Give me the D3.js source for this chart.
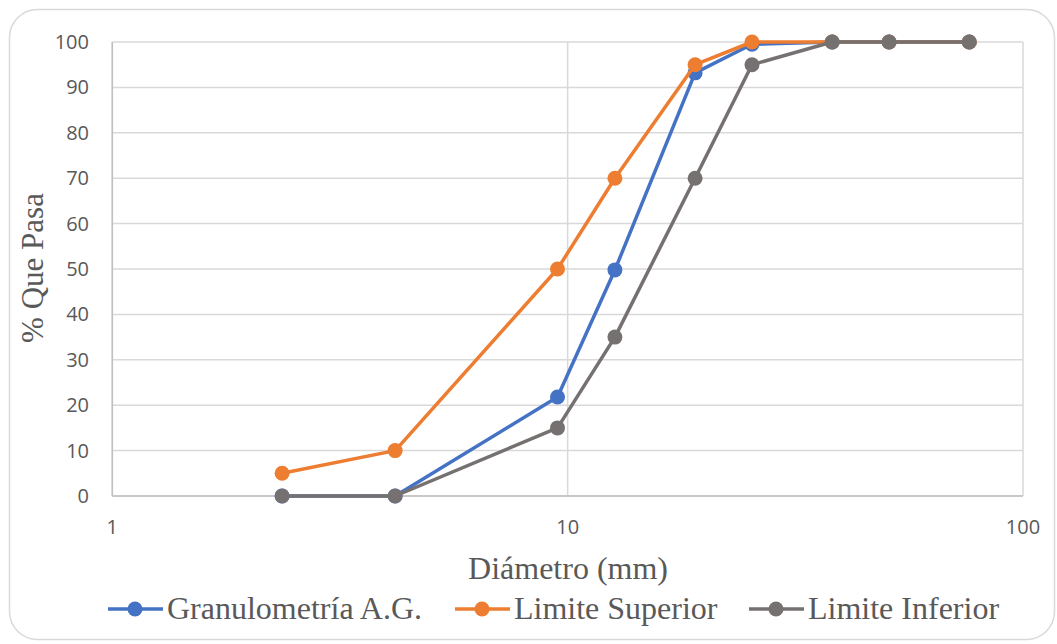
<!DOCTYPE html>
<html><head><meta charset="utf-8">
<script src="https://cdn.jsdelivr.net/npm/d3@7"></script>
<style>body{margin:0;background:#fff}svg{display:block}</style>
</head><body><svg id="c" width="1057" height="644"></svg>
<script>
const diameters = [2.36, 4.18, 9.5, 12.7, 19.05, 25.4, 38.1, 50.8, 76.2];
const granulometria = [0, 0, 21.8, 49.8, 93.2, 99.5, 100, 100, 100];
const limiteSuperior = [5, 10, 50, 70, 95, 100, 100, 100, 100];
const limiteInferior = [0, 0, 15, 35, 70, 95, 100, 100, 100];
const seriesNames = ["Granulometría A.G.", "Limite Superior", "Limite Inferior"];
const seriesColors = ["#4472C4", "#ED7D31", "#767171"];
const xTicks = [1, 10, 100];
const yTicks = [0, 10, 20, 30, 40, 50, 60, 70, 80, 90, 100];
const xTitle = "Diámetro (mm)";
const yTitle = "% Que Pasa";

const svg = d3.select("#c");
svg.append("rect").attr("x", 9.5).attr("y", 9.5).attr("width", 1045).attr("height", 630)
  .attr("rx", 28).attr("fill", "#fff").attr("stroke", "#d9d9d9").attr("stroke-width", 1.5);

const x = d3.scaleLog().domain([1, 100]).range([112.3, 1023]);
const y = d3.scaleLinear().domain([0, 100]).range([496, 42]);
const grid = "#d9d9d9";
const tickFont = "'Open Sans', sans-serif";
const serif = "'Liberation Serif', 'Times New Roman', serif";

const g = svg.append("g");
g.selectAll(".hg").data(yTicks).join("line")
  .attr("x1", x(1)).attr("x2", x(100)).attr("y1", d => y(d)).attr("y2", d => y(d))
  .attr("stroke", grid).attr("stroke-width", 1.5);
g.selectAll(".vg").data(xTicks).join("line")
  .attr("x1", d => x(d)).attr("x2", d => x(d)).attr("y1", y(0)).attr("y2", y(100))
  .attr("stroke", grid).attr("stroke-width", 1.5);
g.append("line").attr("x1", x(1)).attr("x2", x(100)).attr("y1", y(0)).attr("y2", y(0))
  .attr("stroke", "#bfbfbf").attr("stroke-width", 1.5);
g.append("line").attr("x1", x(1)).attr("x2", x(1)).attr("y1", y(0)).attr("y2", y(100))
  .attr("stroke", "#bfbfbf").attr("stroke-width", 1.5);

g.selectAll(".yl").data(yTicks).join("text")
  .attr("x", 89).attr("y", d => y(d)).attr("dy", "0.35em").attr("text-anchor", "end")
  .attr("font-family", tickFont).attr("font-size", 20).attr("fill", "#595959").text(d => d);
g.selectAll(".xl").data(xTicks).join("text")
  .attr("x", d => x(d)).attr("y", 527).attr("dy", "0.35em").attr("text-anchor", "middle")
  .attr("font-family", tickFont).attr("font-size", 20).attr("fill", "#595959").text(d => d);

svg.append("text").attr("x", 568).attr("y", 579).attr("text-anchor", "middle")
  .attr("font-family", serif).attr("font-size", 32).attr("fill", "#595959").text(xTitle);
svg.append("text").attr("transform", "translate(43,268) rotate(-90)")
  .attr("text-anchor", "middle").attr("font-family", serif).attr("font-size", 31)
  .attr("fill", "#595959").text(yTitle);

const allSeries = [granulometria, limiteSuperior, limiteInferior];
const line = d3.line().x(d => x(d[0])).y(d => y(d[1]));
allSeries.forEach((vals, i) => {
  const pts = diameters.map((dv, j) => [dv, vals[j]]);
  const sg = svg.append("g");
  sg.append("path").attr("d", line(pts)).attr("fill", "none")
    .attr("stroke", seriesColors[i]).attr("stroke-width", 3.5).attr("stroke-linejoin", "round");
  sg.selectAll("circle").data(pts).join("circle")
    .attr("cx", d => x(d[0])).attr("cy", d => y(d[1])).attr("r", 7.5).attr("fill", seriesColors[i]);
});

const legX = [108, 455, 749];
const lg = svg.append("g");
seriesNames.forEach((n, i) => {
  const cy = 609;
  lg.append("line").attr("x1", legX[i]).attr("x2", legX[i] + 55).attr("y1", cy).attr("y2", cy)
    .attr("stroke", seriesColors[i]).attr("stroke-width", 3.5);
  lg.append("circle").attr("cx", legX[i] + 27).attr("cy", cy).attr("r", 7.5).attr("fill", seriesColors[i]);
  lg.append("text").attr("x", legX[i] + 59).attr("y", 619)
    .attr("font-family", serif).attr("font-size", 32).attr("fill", "#595959").text(n);
});
</script></body></html>
